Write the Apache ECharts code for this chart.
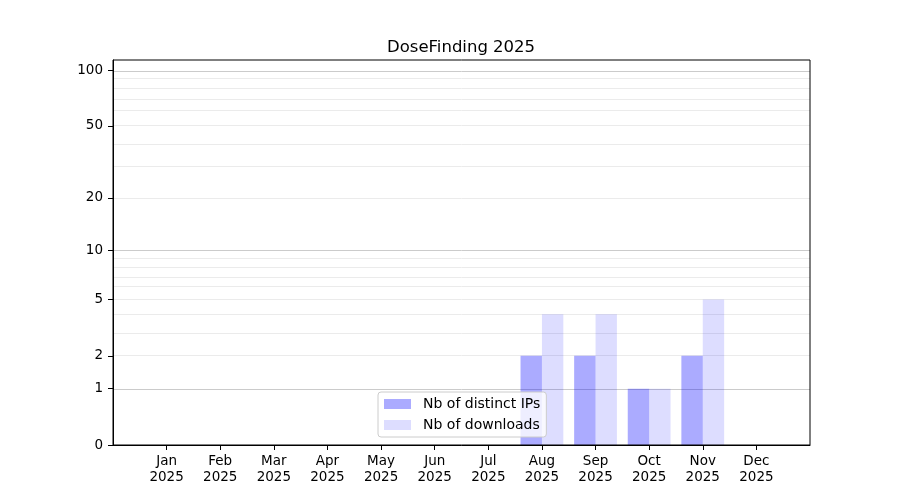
<!DOCTYPE html>
<html>
<head>
<meta charset="utf-8">
<script src="https://cdn.jsdelivr.net/npm/echarts@6/dist/echarts.min.js"></script>
<style>
  html, body { margin: 0; padding: 0; background: #fff; }
  #chart { width: 900px; height: 500px; }
</style>
</head>
<body>
<div id="chart"></div>
<script>
const months = ['Jan', 'Feb', 'Mar', 'Apr', 'May', 'Jun', 'Jul', 'Aug', 'Sep', 'Oct', 'Nov', 'Dec'];
const year = '2025';
const distinctIps = [0, 0, 0, 0, 0, 0, 0, 2, 2, 1, 2, 0];
const downloads = [0, 0, 0, 0, 0, 0, 0, 4, 4, 1, 5, 0];
const yTickLabels = [0, 1, 2, 5, 10, 20, 50, 100];
const majorGrid = [1, 10, 100];
const minorGrid = [2, 3, 4, 5, 6, 7, 8, 9, 20, 30, 40, 50, 60, 70, 80, 90];
const yTop = 113.8;

// the y scale is log10(v + 1), so 0 sits on the axis
const fwd = v => Math.log10(v + 1);
const inv = t => Math.round(Math.pow(10, t) - 1);

// one empty slot on each side gives matplotlib's margins
const cats = [''].concat(months.map(m => m + '\n' + year), ['']);
const pad = arr => [null].concat(arr.map(fwd), [null]);

const font = 'DejaVu Sans';
const chart = echarts.init(document.getElementById('chart'), null, { renderer: 'canvas' });

const gridLines = [];
minorGrid.forEach(v => gridLines.push({ yAxis: fwd(v), lineStyle: { color: '#ebebeb', width: 1, type: 'solid' } }));
majorGrid.forEach(v => gridLines.push({ yAxis: fwd(v), lineStyle: { color: '#cbcbcb', width: 1, type: 'solid' } }));

chart.setOption({
    backgroundColor: '#fff',
    animation: false,
    textStyle: { fontFamily: font },
    title: {
        text: 'DoseFinding 2025',
        left: 382,
        top: 34,
        textStyle: { fontFamily: font, fontSize: 16.5, fontWeight: 'normal', color: '#000' }
    },
    grid: {
        left: 113, right: 90, top: 60, bottom: 55, z: 4,
        show: true, borderColor: '#000', borderWidth: 1, backgroundColor: 'transparent'
    },
    legend: {
        orient: 'vertical',
        left: 378,
        top: 392,
        z: 6,
        padding: [5, 6, 5, 6],
        itemGap: 7,
        itemWidth: 27,
        itemHeight: 10,
        icon: 'rect',
        backgroundColor: 'rgba(255,255,255,0.8)',
        borderColor: '#cccccc',
        borderWidth: 1,
        borderRadius: 3,
        textStyle: { fontFamily: font, fontSize: 14, color: '#000', padding: [0, 0, 0, 7] },
        data: ['Nb of distinct IPs', 'Nb of downloads']
    },
    xAxis: {
        type: 'category',
        data: cats,
        boundaryGap: false,
        z: 4,
        axisLine: { lineStyle: { color: '#000', width: 1 } },
        axisTick: {
            length: 5, inside: false,
            interval: (i, v) => v !== '',
            lineStyle: { color: '#000' }
        },
        axisLabel: {
            interval: 0, color: '#000', fontSize: 13.5, lineHeight: 15.5, margin: 9,
            fontFamily: font
        },
        splitLine: { show: false }
    },
    yAxis: {
        type: 'value',
        min: 0,
        max: fwd(yTop),
        z: 4,
        axisLine: { show: true, lineStyle: { color: '#000', width: 1 } },
        axisTick: {
            show: true, length: 5, inside: false,
            customValues: yTickLabels.map(fwd),
            lineStyle: { color: '#000' }
        },
        axisLabel: {
            color: '#000', fontSize: 13.5, margin: 10, fontFamily: font,
            customValues: yTickLabels.map(fwd),
            formatter: v => String(inv(v))
        },
        splitLine: { show: false }
    },
    series: [
        {
            name: 'grid',
            type: 'line',
            data: [],
            z: 0,
            silent: true,
            markLine: { silent: true, z: 0, symbol: 'none', label: { show: false }, animation: false, data: gridLines }
        },
        {
            name: 'Nb of distinct IPs',
            type: 'bar',
            data: pad(distinctIps),
            barWidth: 21.4,
            barGap: '0%',
            itemStyle: { color: 'rgba(0,0,255,0.33)' },
            z: 2
        },
        {
            name: 'Nb of downloads',
            type: 'bar',
            data: pad(downloads),
            barWidth: 21.4,
            barGap: '0%',
            itemStyle: { color: 'rgba(0,0,255,0.135)' },
            z: 2
        }
    ]
});
</script>
</body>
</html>
